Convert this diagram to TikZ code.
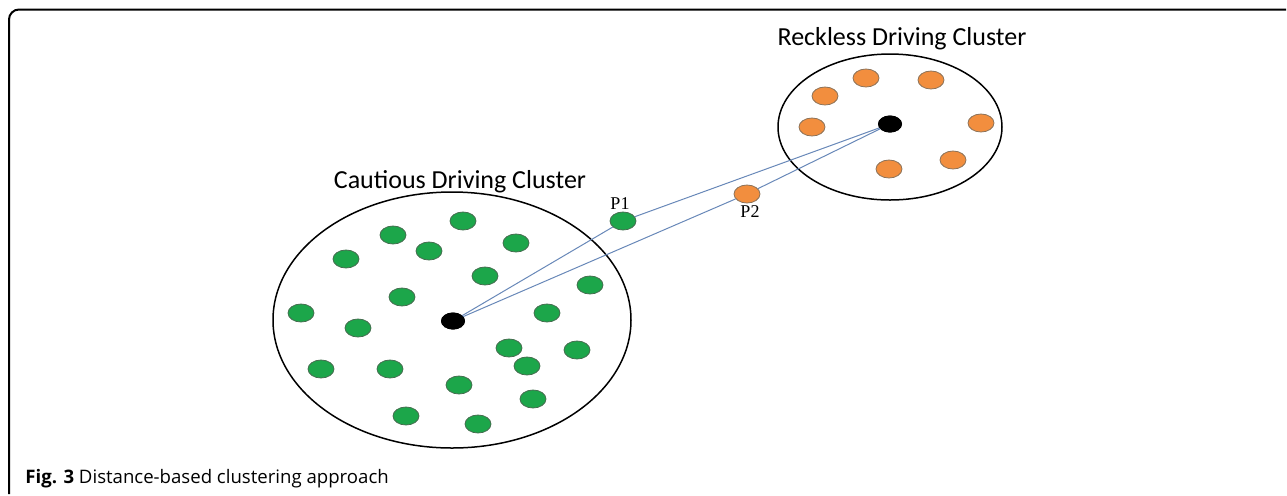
\documentclass[tikz,border=0pt]{standalone}
\usepackage{fontspec}
\setmainfont{Liberation Serif}
\newfontfamily\clusterfont{Carlito}
\newfontfamily\captionfont{Open Sans}
\usepackage{xcolor}
\usetikzlibrary{positioning, shapes.geometric}

\definecolor{dotgreen}{RGB}{28,166,74}
\definecolor{dotgreenedge}{RGB}{70,110,80}
\definecolor{dotorange}{RGB}{242,142,62}
\definecolor{dotorangeedge}{RGB}{140,115,90}
\definecolor{distline}{RGB}{104,136,184}

\tikzset{
  cluster/.style={draw, ellipse, line width=0.75pt},
  cautiousdot/.style={draw=dotgreenedge, fill=dotgreen, ellipse, line width=0.4pt, minimum width=13pt, minimum height=9pt, inner sep=0pt},
  recklessdot/.style={draw=dotorangeedge, fill=dotorange, ellipse, line width=0.4pt, minimum width=13pt, minimum height=9pt, inner sep=0pt},
  centroid/.style={fill=black, ellipse, minimum width=12pt, minimum height=8.5pt, inner sep=0pt},
  clusterlabel/.style={font=\clusterfont\fontsize{13}{15}\selectfont, inner sep=0pt, anchor=base},
  pointlabel/.style={font=\fontsize{9}{10}\selectfont, inner sep=1pt},
  distline/.style={draw=distline, line width=0.5pt}
}

\begin{document}
\begin{tikzpicture}[x=0.5pt, y=-0.5pt]
\useasboundingbox (0,0) rectangle (1287,495);

% Frame
\draw[line width=1pt, rounded corners=5pt] (1286,9.5) -- (9,9.5) -- (9,494);

% Clusters
\node[cluster, minimum width=179pt, minimum height=128pt] (cautious) at (452,320) {};
\node[cluster, minimum width=112pt, minimum height=73pt] (reckless) at (890,127) {};
\node[clusterlabel] (cautiouslabel) at (460,188) {Cautious Driving Cluster};
\node[clusterlabel] (recklesslabel) at (902,45) {Reckless Driving Cluster};

% Cautious points
\foreach \x/\y [count=\i] in {463/221, 393/235, 429/251, 516/243, 346/259, 485/276,
    590/285, 402/297, 301/313, 358/328, 547/313, 509/348, 577/350, 527/366,
    321/369, 390/369, 459/385, 533/399, 406/416, 478/424}
  \node[cautiousdot] (c\i) at (\x,\y) {};

% Reckless points
\foreach \x/\y [count=\i] in {866/78, 931/80, 825/96, 812/127, 981/123, 953/160, 889/169}
  \node[recklessdot] (r\i) at (\x,\y) {};

% Points between the clusters
\node[cautiousdot] (p1) at (623,221) {};
\node[recklessdot] (p2) at (747,194) {};
\node[pointlabel, above=0pt of p1, xshift=-1.5pt] (p1label) {P1};
\node[pointlabel, below=0pt of p2, xshift=1.5pt] (p2label) {P2};

% Centroids
\node[centroid] (cc) at (453,321) {};
\node[centroid] (rc) at (890,124) {};

% Distances
\draw[distline] (cc.center) -- (p1);
\draw[distline] (p1) -- (rc.center);
\draw[distline] (cc.center) -- (p2);
\draw[distline] (p2) -- (rc.center);
\node[centroid] at (cc) {};
\node[centroid] at (rc) {};

% Caption
\node[anchor=base west, inner sep=0pt, font=\captionfont\fontsize{9.3}{11}\selectfont] (caption) at (25,483)
  {\textbf{Fig. 3} Distance-based clustering approach};
\end{tikzpicture}
\end{document}
